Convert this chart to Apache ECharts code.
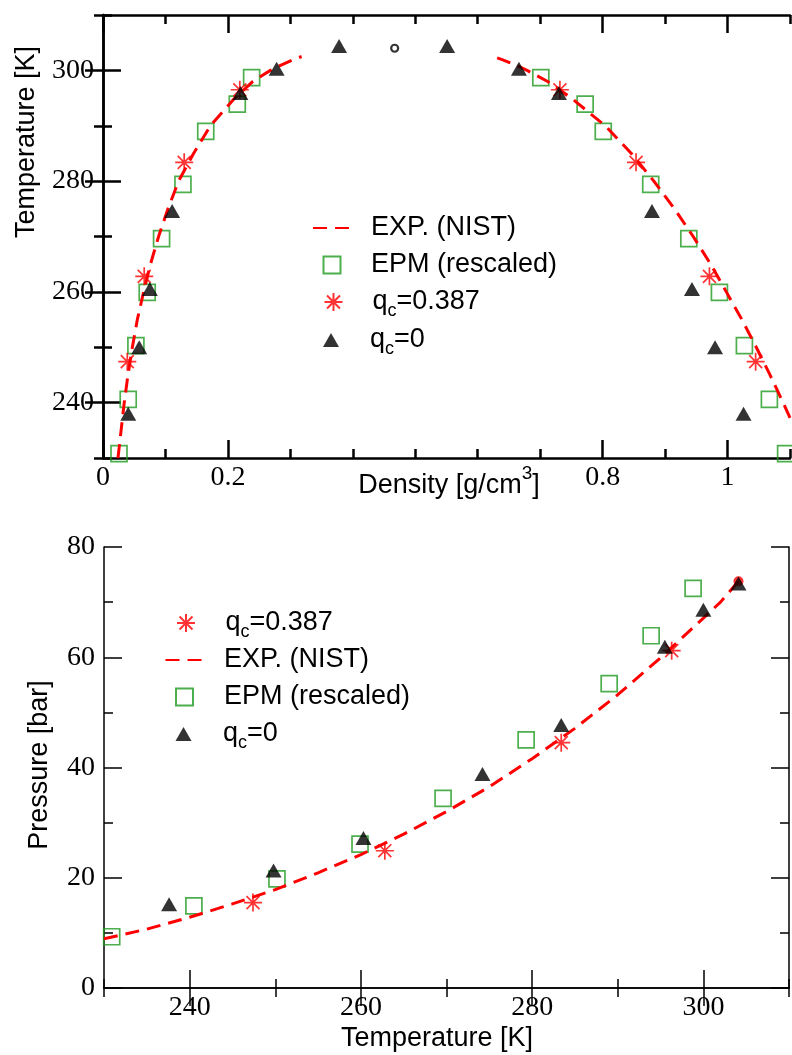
<!DOCTYPE html>
<html>
<head>
<meta charset="utf-8">
<script src="https://cdn.jsdelivr.net/npm/echarts@6/dist/echarts.min.js"></script>
<style>html,body{margin:0;padding:0;background:#fff}#c{width:792px;height:1055px}</style>
</head>
<body>
<div id="c"></div>
<script>
// ---------- Top panel: coexistence curve (density vs temperature) ----------
const nistT      = [230, 235, 240, 245, 250, 255, 260, 265, 270, 275, 280, 285, 290, 295, 298, 300, 301, 302, 302.5];
const nistRhoVap = [0.024, 0.029, 0.034, 0.040, 0.047, 0.055, 0.065, 0.076, 0.089, 0.104, 0.121, 0.145, 0.172, 0.211, 0.240, 0.268, 0.286, 0.306, 0.318];
const nistRhoLiq = [1.129, 1.109, 1.089, 1.068, 1.046, 1.023, 0.998, 0.973, 0.945, 0.915, 0.882, 0.846, 0.804, 0.750, 0.712, 0.679, 0.660, 0.638, 0.625];

const epmT      = [230.8, 240.6, 250.3, 259.9, 269.6, 279.4, 289.0, 293.9, 298.7];
const epmRhoVap = [0.0256, 0.0404, 0.0527, 0.0708, 0.0938, 0.128, 0.1645, 0.215, 0.238];
const epmRhoLiq = [1.093, 1.067, 1.027, 0.987, 0.938, 0.877, 0.801, 0.772, 0.701];

const q387T      = [247.4, 262.8, 283.4, 296.5];
const q387RhoVap = [0.0389, 0.066, 0.130, 0.219];
const q387RhoLiq = [1.045, 0.971, 0.8535, 0.7316];

const q0T      = [238.0, 250.0, 260.5, 274.6, 295.9, 300.3, 304.4];
const q0RhoVap = [0.0404, 0.058, 0.075, 0.1107, 0.220, 0.278, 0.378];
const q0RhoLiq = [1.0256, 0.980, 0.943, 0.879, 0.730, 0.666, 0.551];

const critRho = [0.467];
const critT   = [304.0];

// ---------- Bottom panel: vapour pressure ----------
const nistPT = [230, 235, 240, 245, 250, 255, 260, 265, 270, 275, 280, 285, 290, 295, 300, 302, 304.1];
const nistP  = [8.93, 10.68, 12.83, 15.25, 17.85, 20.9, 24.2, 27.9, 32.0, 36.5, 41.6, 47.1, 53.2, 59.9, 67.1, 70.0, 73.8];

const epmPT = [230.9, 240.5, 250.2, 259.9, 269.6, 279.3, 289.0, 293.9, 298.8];
const epmP  = [9.3, 14.9, 19.8, 26.1, 34.4, 45.0, 55.2, 63.9, 72.5];

const q387PT = [247.4, 262.8, 283.4, 296.3];
const q387P  = [15.5, 24.9, 44.5, 61.2];

const q0PT = [237.6, 249.8, 260.3, 274.2, 283.4, 295.5, 300.0, 304.1];
const q0P  = [15.2, 21.3, 27.2, 38.8, 47.7, 61.9, 68.6, 73.4];

const critPT = [304.1];
const critP  = [73.8];

// ---------- Tick labels ----------
const topXLabels = [0, 0.2, 0.8, 1];
const topYLabels = [240, 260, 280, 300];
const botXLabels = [240, 260, 280, 300];
const botYLabels = [0, 20, 40, 60, 80];

const pairs = (xs, ys) => xs.map((x, i) => [x, ys[i]]);

const SERIF = 'Liberation Serif';
const SANS = 'Liberation Sans';
const RED = '#ff0000', GREEN = '#1f9a1f', BLACK = '#000000';
const STAR = 'path://M0,-1L0,1M-1,0L1,0M-0.72,-0.72L0.72,0.72M-0.72,0.72L0.72,-0.72';

function axisSet(dim, gridIndex, min, max, step, majors, labels, lw) {
  const pos = dim === 'x' ? ['bottom', 'top'] : ['left', 'right'];
  const base = { type: 'value', gridIndex, min, max, interval: step, splitLine: { show: false } };
  const line = { show: true, lineStyle: { color: BLACK, width: lw } };
  const lab = { show: true, customValues: labels, color: BLACK, fontFamily: SERIF, fontSize: 28, margin: dim === 'x' ? 6 : 9 };
  return [
    Object.assign({}, base, { position: pos[0], axisLine: line,
      axisTick: { show: true, inside: true, length: 9, lineStyle: { color: BLACK, width: lw } },
      axisLabel: lab }),
    Object.assign({}, base, { position: pos[0], axisLine: { show: false },
      axisTick: { show: true, inside: true, length: 18, customValues: majors, lineStyle: { color: BLACK, width: lw } },
      axisLabel: { show: false, customValues: majors } }),
    Object.assign({}, base, { position: pos[1], axisLine: line,
      axisTick: { show: true, inside: true, length: 9, lineStyle: { color: BLACK, width: lw } },
      axisLabel: { show: false } }),
    Object.assign({}, base, { position: pos[1], axisLine: { show: false },
      axisTick: { show: true, inside: true, length: 18, customValues: majors, lineStyle: { color: BLACK, width: lw } },
      axisLabel: { show: false, customValues: majors } })
  ];
}

const xAxes = [].concat(
  axisSet('x', 0, 0, 1.1, 0.1, [0, 0.2, 0.8, 1], topXLabels, 2.5),
  axisSet('x', 1, 230, 310, 10, [240, 260, 280, 300], botXLabels, 1.5)
);
const yAxes = [].concat(
  axisSet('y', 0, 230, 310, 10, [240, 260, 280, 300], topYLabels, 2.5),
  axisSet('y', 1, 0, 80, 10, [0, 20, 40, 60, 80], botYLabels, 1.5)
);

const nistStyle = { color: RED, width: 3, type: [14, 8] };
const sqStyle = { color: 'rgba(0,0,0,0)', borderColor: GREEN, borderWidth: 1.7 };
const starStyle = { color: 'none', borderColor: RED, borderWidth: 1.7 };

function nist(data, xi, yi) {
  return { name: 'EXP. (NIST)', type: 'line', xAxisIndex: xi, yAxisIndex: yi, data, symbol: 'none',
    showSymbol: false, lineStyle: nistStyle, itemStyle: { color: 'rgba(0,0,0,0)', borderWidth: 0 }, clip: true, z: 3 };
}
function sq(data, xi, yi) {
  return { name: 'EPM (rescaled)', type: 'scatter', xAxisIndex: xi, yAxisIndex: yi, data, symbol: 'rect',
    symbolSize: 16, itemStyle: sqStyle, z: 2 };
}
function star(data, xi, yi) {
  return { name: 'q_c=0.387', type: 'scatter', xAxisIndex: xi, yAxisIndex: yi, data, symbol: STAR,
    symbolSize: 18, itemStyle: starStyle, z: 4 };
}
function tri(data, xi, yi) {
  return { name: 'q_c=0', type: 'scatter', xAxisIndex: xi, yAxisIndex: yi, data, symbol: 'triangle',
    symbolSize: [16, 14], itemStyle: { color: BLACK }, z: 5 };
}

const series = [
  nist(pairs(nistRhoVap, nistT), 0, 0),
  nist(pairs(nistRhoLiq, nistT), 0, 0),
  sq(pairs(epmRhoVap, epmT), 0, 0),
  sq(pairs(epmRhoLiq, epmT), 0, 0),
  star(pairs(q387RhoVap, q387T), 0, 0),
  star(pairs(q387RhoLiq, q387T), 0, 0),
  tri(pairs(q0RhoVap, q0T), 0, 0),
  tri(pairs(q0RhoLiq, q0T), 0, 0),
  { name: 'crit-top', type: 'scatter', xAxisIndex: 0, yAxisIndex: 0, data: pairs(critRho, critT),
    symbol: 'circle', symbolSize: 7, itemStyle: { color: '#fff', borderColor: BLACK, borderWidth: 2.2 }, z: 4 },

  { name: 'crit-bot', type: 'scatter', xAxisIndex: 4, yAxisIndex: 4, data: pairs(critPT, critP),
    symbol: 'circle', symbolSize: 10, itemStyle: { color: RED }, z: 1 },
  nist(pairs(nistPT, nistP), 4, 4),
  sq(pairs(epmPT, epmP), 4, 4),
  star(pairs(q387PT, q387P), 4, 4),
  tri(pairs(q0PT, q0P), 4, 4)
];

// legend icon boxes per item
const ICON = {
  'EXP. (NIST)':    [38, 17],
  'EPM (rescaled)': [17, 17],
  'q_c=0.387':      [18, 18],
  'q_c=0':          [16, 14]
};
const fmt = n => n.indexOf('q_c') === 0 ? 'q{sub|c}' + n.slice(3) : n;
// one legend per item: icon centre x, row centre y, text start x
function legendItem(name, cx, cy, textX) {
  const [iw, ih] = ICON[name];
  const left = cx - iw / 2;
  return { data: [name], orient: 'vertical', left, top: cy - 18.5, itemWidth: iw, itemHeight: ih, itemGap: 0,
    selectedMode: false, formatter: fmt, padding: 0,
    textStyle: {
      fontFamily: SANS, fontSize: 27, color: BLACK, lineHeight: 37, padding: [0, 0, 0, textX - (left + iw + 5)],
      rich: { sub: { fontFamily: SANS, fontSize: 18, lineHeight: 18, verticalAlign: 'bottom', color: BLACK } }
    } };
}
const topRows = [['EXP. (NIST)', 228], ['EPM (rescaled)', 265], ['q_c=0.387', 302], ['q_c=0', 340]];
const botRows = [['q_c=0.387', 623], ['EXP. (NIST)', 660], ['EPM (rescaled)', 697], ['q_c=0', 734]];
const legends = [].concat(
  topRows.map(r => legendItem(r[0], 331, r[1], 370)),
  botRows.map(r => legendItem(r[0], 183.5, r[1], 223))
);

const titleStyle = (text) => ({ text, fontFamily: SANS, fontSize: 27, fill: BLACK, align: 'center', verticalAlign: 'middle' });

const chart = echarts.init(document.getElementById('c'), null, { renderer: 'canvas' });
chart.setOption({
  backgroundColor: '#ffffff',
  animation: false,
  grid: [
    { left: 103, top: 15, width: 687, height: 443 },
    { left: 104, top: 547, width: 685, height: 441 }
  ],
  xAxis: xAxes,
  yAxis: yAxes,
  legend: legends,
  graphic: [
    { type: 'text', x: 27, y: 142, rotation: Math.PI / 2, style: titleStyle('Temperature [K]') },
    { type: 'text', x: 449, y: 486, style: {
        text: '{n|Density [g/cm}{sup|3}{n|]}', align: 'center', verticalAlign: 'middle', fill: BLACK,
        rich: { n: { fontFamily: SANS, fontSize: 27, lineHeight: 44, fill: BLACK },
                sup: { fontFamily: SANS, fontSize: 19, lineHeight: 19, verticalAlign: 'top', fill: BLACK } } } },
    { type: 'text', x: 40, y: 765, rotation: Math.PI / 2, style: titleStyle('Pressure [bar]') },
    { type: 'text', x: 437, y: 1039, style: titleStyle('Temperature [K]') }
  ],
  series
});
</script>
</body>
</html>
